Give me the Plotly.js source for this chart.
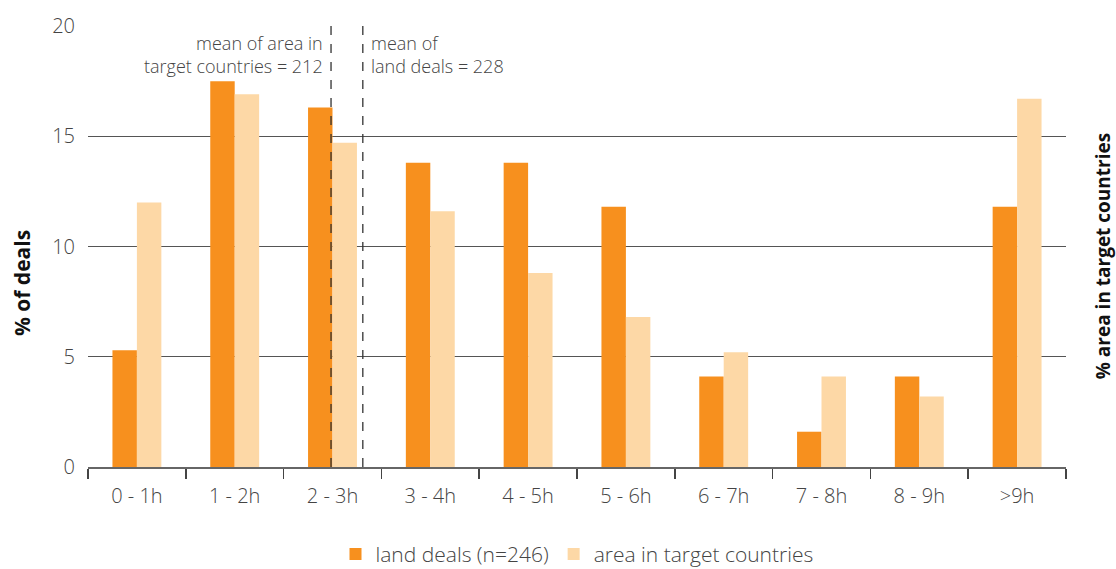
<!DOCTYPE html>
<html>
<head>
<meta charset="utf-8">
<script src="https://cdn.plot.ly/plotly-3.0.1.min.js"></script>
<style>html,body{margin:0;padding:0;background:#fff;}#chart{width:1116px;height:569px;}</style>
</head>
<body>
<div id="chart"></div>
<script>
const categories = ["0 - 1h","1 - 2h","2 - 3h","3 - 4h","4 - 5h","5 - 6h","6 - 7h","7 - 8h","8 - 9h",">9h"];
const landDeals = [5.3, 17.5, 16.3, 13.8, 13.8, 11.8, 4.1, 1.6, 4.1, 11.8];
const areaTarget = [12.0, 16.9, 14.7, 11.6, 8.8, 6.8, 5.2, 4.1, 3.2, 16.7];
const seriesNames = ["land deals (n=246)", "area in target countries"];
const meanAreaPos = 1.985;
const meanDealsPos = 2.31;
const meanAreaLabel = "mean of area in<br>target countries = 212";
const meanDealsLabel = "mean of<br>land deals = 228";
const leftTitle = "% of deals";
const rightTitle = "% area in target countries";

const FONT = "'Open Sans', 'Noto Sans', sans-serif";
const traces = [
  {type:"bar", x:categories, y:landDeals, name:seriesNames[0], marker:{color:"#F7901E"}},
  {type:"bar", x:categories, y:areaTarget, name:seriesNames[1], marker:{color:"#FDD8A6"}}
];
const layout = {
  width:1116, height:569,
  margin:{l:88, r:50, t:26, b:102, autoexpand:false},
  barmode:"group", bargap:0.5, bargroupgap:0,
  paper_bgcolor:"#fff", plot_bgcolor:"#fff",
  font:{family:FONT, color:"#444", size:20, weight:300},
  showlegend:true,
  legend:{orientation:"h", x:0.5, xanchor:"center", y:-0.198, yanchor:"middle", font:{size:21, color:"#444", weight:300}, tracegroupgap:0},
  xaxis:{type:"category", tickson:"boundaries", ticks:"outside", ticklen:10, tickcolor:"#444", tickwidth:1.5,
         showline:true, linecolor:"#666", linewidth:1.5, showgrid:false, tickfont:{size:20, color:"#444", weight:300},
         ticklabelstandoff:10, range:[-0.5,9.5], automargin:false},
  yaxis:{range:[0,20], dtick:5, showgrid:true, gridcolor:"#555", gridwidth:1, zeroline:false,
         ticks:"", tickfont:{size:20, color:"#444", weight:300}, ticklabelstandoff:12, automargin:false},
  shapes:[
    {type:"line", xref:"x", yref:"y", x0:meanAreaPos, x1:meanAreaPos, y0:0, y1:20, line:{color:"#333", width:1.3, dash:"dash"}},
    {type:"line", xref:"x", yref:"y", x0:meanDealsPos, x1:meanDealsPos, y0:0, y1:20, line:{color:"#333", width:1.3, dash:"dash"}}
  ],
  annotations:[
    {xref:"x", yref:"y", x:meanAreaPos, y:19.85, xanchor:"right", yanchor:"top", xshift:-6, align:"right", showarrow:false,
     text:meanAreaLabel, font:{size:18, color:"#444", weight:300}},
    {xref:"x", yref:"y", x:meanDealsPos, y:19.85, xanchor:"left", yanchor:"top", xshift:6, align:"left", showarrow:false,
     text:meanDealsLabel, font:{size:18, color:"#444", weight:300}},
    {xref:"paper", yref:"paper", x:0, xshift:-66, y:0.417, xanchor:"center", yanchor:"middle", textangle:-90, showarrow:false,
     text:"<b>" + leftTitle + "</b>", font:{size:21, color:"#111", weight:700}},
    {xref:"paper", yref:"paper", x:1, xshift:37, y:0.478, xanchor:"center", yanchor:"middle", textangle:-90, showarrow:false,
     text:"<b>" + rightTitle + "</b>", font:{size:19, color:"#111", weight:700}}
  ]
};
Plotly.newPlot("chart", traces, layout, {displayModeBar:false, staticPlot:true});
</script>
</body>
</html>
